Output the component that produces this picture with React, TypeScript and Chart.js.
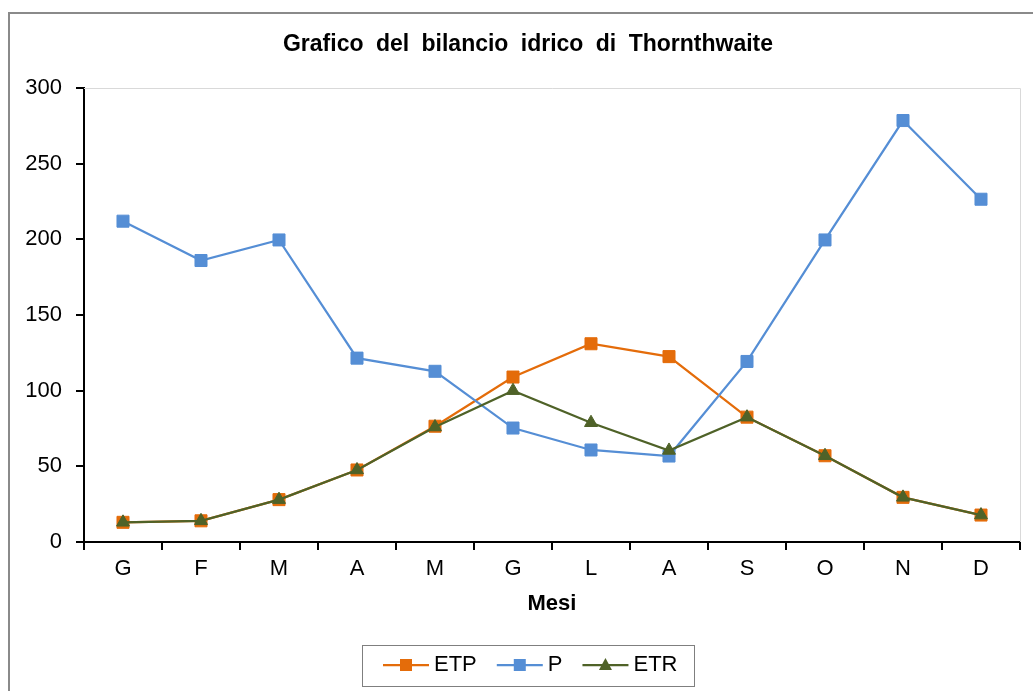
import React, { useEffect, useRef } from 'react';
import { Chart, registerables } from 'chart.js';

Chart.register(...registerables);

// ---- data ----
const months = ['G', 'F', 'M', 'A', 'M', 'G', 'L', 'A', 'S', 'O', 'N', 'D'];
const etpValues = [13, 14, 28, 47.6, 76.5, 109, 131, 122.5, 82.5, 57, 29.5, 17.8];
const pValues = [212, 186, 199.6, 121.5, 112.8, 75.3, 60.8, 56.8, 119.3, 199.6, 278.5, 226.5];
const etrValues = [13, 14, 28, 47.6, 76, 100, 78.8, 60.5, 82.5, 57, 29.5, 17.8];
const seriesNames = ['ETP', 'P', 'ETR'];
const yMin = 0;
const yMax = 300;
const yStep = 50;
const chartTitle = 'Grafico del bilancio idrico di Thornthwaite';
const xAxisTitle = 'Mesi';

const FONT = '"Liberation Sans", Arial, sans-serif';
const colors = ['#E46C0A', '#558ED5', '#4F6228'];
const markers = ['rect', 'rect', 'triangle'];

const framePlugin = {
  id: 'frame',
  beforeDatasetsDraw(chart: any) {
    const { ctx, chartArea } = chart;
    ctx.save();
    ctx.strokeStyle = '#D9D9D9';
    ctx.lineWidth = 1;
    ctx.beginPath();
    ctx.moveTo(chartArea.left, chartArea.top + 0.5);
    ctx.lineTo(chartArea.right + 0.5, chartArea.top + 0.5);
    ctx.lineTo(chartArea.right + 0.5, chartArea.bottom);
    ctx.stroke();
    ctx.restore();
  },
  afterDraw(chart: any) {
    const { ctx } = chart;
    ctx.save();
    // outer chart border (left + top visible)
    ctx.strokeStyle = '#8A8A8A';
    ctx.lineWidth = 2;
    ctx.beginPath();
    ctx.moveTo(9, chart.height);
    ctx.lineTo(9, 13);
    ctx.lineTo(chart.width, 13);
    ctx.stroke();
    // chart title
    ctx.fillStyle = '#000';
    ctx.font = `bold 23px ${FONT}`;
    ctx.textAlign = 'center';
    ctx.textBaseline = 'middle';
    try { (ctx as any).wordSpacing = '6px'; } catch (e) { /* ignore */ }
    ctx.fillText(chartTitle, 528, 45);
    ctx.restore();
  },
};

const legendPlugin = {
  id: 'customLegend',
  afterDraw(chart: any) {
    const { ctx } = chart;
    const boxL = 362, boxT = 645, boxR = 694, boxB = 686;
    const cy = 665;
    ctx.save();
    ctx.strokeStyle = '#7F7F7F';
    ctx.lineWidth = 1;
    ctx.strokeRect(boxL + 0.5, boxT + 0.5, boxR - boxL, boxB - boxT);
    ctx.font = `22px ${FONT}`;
    ctx.textBaseline = 'middle';
    ctx.textAlign = 'left';
    let x = 383;
    chart.data.datasets.forEach((ds: any) => {
      const lineLen = 46;
      ctx.strokeStyle = ds.borderColor;
      ctx.lineWidth = 2.25;
      ctx.beginPath();
      ctx.moveTo(x, cy);
      ctx.lineTo(x + lineLen, cy);
      ctx.stroke();
      const mx = x + lineLen / 2;
      ctx.fillStyle = ds.borderColor;
      if (ds.pointStyle === 'triangle') {
        ctx.beginPath();
        ctx.moveTo(mx, cy - 7);
        ctx.lineTo(mx + 6.5, cy + 5);
        ctx.lineTo(mx - 6.5, cy + 5);
        ctx.closePath();
        ctx.fill();
      } else {
        ctx.fillRect(mx - 6, cy - 6, 12, 12);
      }
      ctx.fillStyle = '#000';
      const tx = x + lineLen + 5;
      ctx.fillText(ds.label, tx, cy);
      x = tx + ctx.measureText(ds.label).width + 20;
    });
    ctx.restore();
  },
};

export default function App() {
  const canvasRef = useRef<HTMLCanvasElement | null>(null);

  useEffect(() => {
    const canvas = canvasRef.current;
    if (!canvas) return;
    const seriesValues = [etpValues, pValues, etrValues];
    const chart = new Chart(canvas, {
      type: 'line',
      data: {
        labels: months,
        datasets: seriesNames.map((name, i) => ({
          label: name,
          data: seriesValues[i],
          borderColor: colors[i],
          backgroundColor: colors[i],
          borderWidth: 2.25,
          pointStyle: markers[i],
          pointRadius: markers[i] === 'rect' ? 8.5 : 7.5,
          pointBorderWidth: 1,
          pointBorderColor: colors[i],
          pointBackgroundColor: colors[i],
          tension: 0,
          fill: false,
          order: 3 - i,
        })),
      },
      options: {
        responsive: false,
        animation: false,
        devicePixelRatio: 1,
        layout: { padding: { left: 10, right: 13, top: 88, bottom: 74 } },
        plugins: {
          legend: { display: false },
          tooltip: { enabled: false },
          title: { display: false },
        },
        scales: {
          x: {
            type: 'category',
            offset: true,
            grid: {
              display: true,
              offset: true,
              drawOnChartArea: false,
              drawTicks: true,
              tickLength: 8,
              color: '#000',
              lineWidth: 2,
            },
            border: { display: true, color: '#000', width: 2 },
            ticks: {
              color: '#000',
              font: { family: FONT, size: 22 },
              padding: 6,
              maxRotation: 0,
              autoSkip: false,
            },
            title: {
              display: true,
              text: xAxisTitle,
              color: '#000',
              font: { family: FONT, size: 22, weight: 'bold' },
              padding: { top: 0, bottom: 0 },
            },
            afterFit(scale: any) {
              scale.height = 75;
            },
          },
          y: {
            min: yMin,
            max: yMax,
            grid: {
              display: true,
              drawOnChartArea: false,
              drawTicks: true,
              tickLength: 8,
              color: '#000',
              lineWidth: 2,
            },
            border: { display: true, color: '#000', width: 2 },
            ticks: {
              stepSize: yStep,
              color: '#000',
              font: { family: FONT, size: 22 },
              padding: 14,
            },
            afterFit(scale: any) {
              scale.width = 74;
            },
          },
        },
      },
      plugins: [framePlugin, legendPlugin],
    } as any);
    return () => chart.destroy();
  }, []);

  return (
    <div style={{ position: 'fixed', left: 0, top: 0, width: 1033, height: 691, background: '#fff' }}>
      <canvas ref={canvasRef} width={1033} height={691} style={{ display: 'block' }} />
    </div>
  );
}
